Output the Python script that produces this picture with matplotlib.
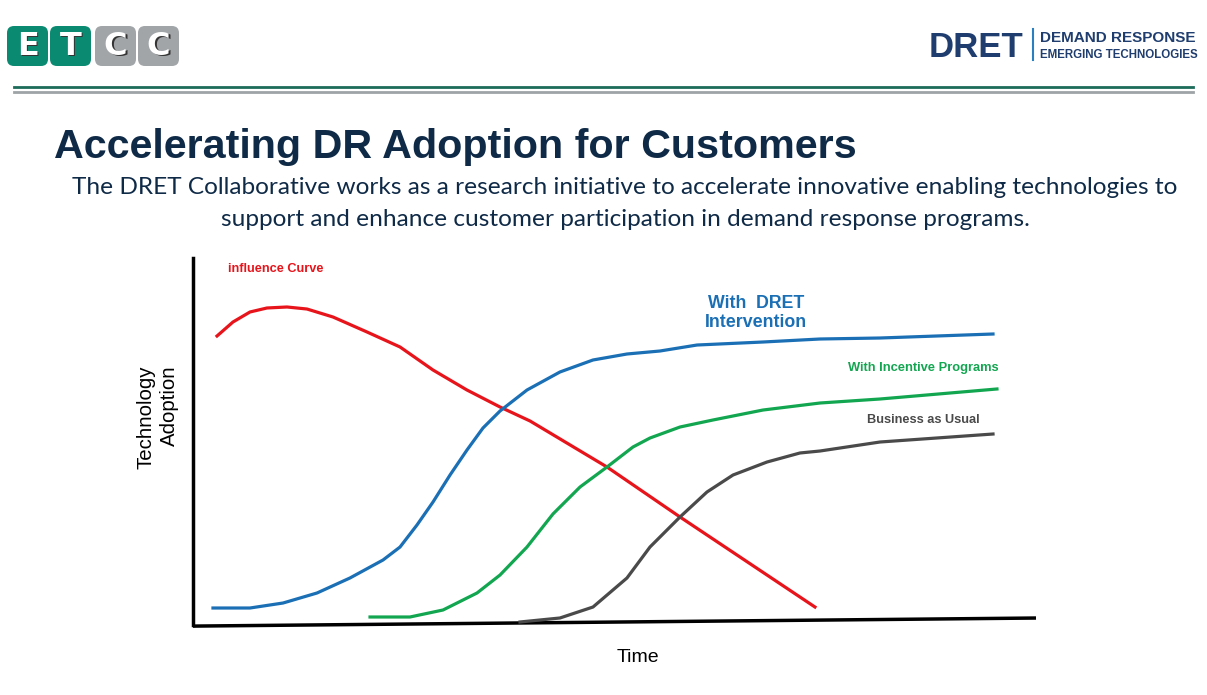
import matplotlib.pyplot as plt
from matplotlib.patches import FancyBboxPatch

# curves (time 0-100, adoption 0-100)
influence_t = [2.85, 4.74, 6.76, 8.78, 11.15, 13.52, 16.61, 20.64, 24.56, 28.47, 32.50, 36.42,
               39.98, 49.11, 57.77, 73.78]
influence_y = [78.75, 82.56, 85.29, 86.38, 86.65, 86.10, 83.92, 79.84, 75.75, 69.48, 64.03, 59.40,
               55.59, 43.05, 29.43, 4.90]

dret_t = [2.37, 6.76, 10.68, 14.71, 18.62, 22.54, 24.56, 26.57, 28.47, 30.49, 32.50, 34.40,
          36.42, 39.62, 43.53, 47.45, 51.48, 55.40, 59.79, 67.62, 74.38, 81.49, 94.90]
dret_y = [4.63, 4.63, 5.99, 8.72, 12.81, 17.71, 21.25, 27.25, 33.51, 40.87, 47.68, 53.68,
          58.31, 64.03, 68.94, 72.21, 73.84, 74.66, 76.29, 77.11, 77.93, 78.20, 79.29]

incentive_t = [21.00, 25.74, 29.66, 33.69, 36.42, 39.62, 42.70, 45.91, 49.11, 52.19, 54.21,
               57.77, 61.68, 67.62, 74.38, 81.49, 95.37]
incentive_y = [2.18, 2.18, 4.09, 8.72, 13.62, 21.25, 30.25, 37.60, 43.05, 48.50, 50.95,
               53.95, 55.86, 58.58, 60.49, 61.58, 64.31]

bau_t = [38.79, 43.53, 47.45, 51.48, 54.21, 57.77, 60.97, 64.06, 68.09, 72.00, 74.38, 81.49, 94.90]
bau_y = [0.82, 1.91, 4.90, 12.81, 21.25, 29.43, 36.24, 40.87, 44.41, 46.87, 47.41, 49.86, 52.04]

NAVY = "#0f2a47"
LOGO_NAVY = "#1f3d6e"
RED = "#e8141b"
BLUE = "#1a6fb5"
GREEN = "#12a650"
GRAY = "#4a4a4a"

fig = plt.figure(figsize=(12.07, 6.95), dpi=100)

# slide layer in pixel coordinates
deco = fig.add_axes([0, 0, 1, 1])
deco.set_xlim(0, 1207)
deco.set_ylim(695, 0)
deco.axis("off")

# ETCC logo
logo_x = [7, 50, 95, 138]
logo_colors = ["#0b8a72", "#0b8a72", "#a2a5a8", "#a2a5a8"]
for x0, letter, color in zip(logo_x, "ETCC", logo_colors):
    deco.add_patch(FancyBboxPatch((x0, 26), 41, 40, boxstyle="round,pad=0,rounding_size=7",
                                  fc=color, ec="none"))
    deco.text(x0 + 22, 48, letter, ha="center", va="center", fontsize=23, fontweight="bold",
              color="#333333", family="DejaVu Sans")
    deco.text(x0 + 20.5, 46.5, letter, ha="center", va="center", fontsize=23, fontweight="bold",
              color="white", family="DejaVu Sans")

# DRET logo
deco.text(929, 57, "DRET", ha="left", va="baseline", fontsize=25, fontweight="bold",
          color=LOGO_NAVY, family="Liberation Sans")
deco.plot([1033, 1033], [29, 60], color="#2a7fc0", lw=1.5)
deco.text(1040, 42, "DEMAND RESPONSE", ha="left", va="baseline", fontsize=11, fontweight="bold",
          color=LOGO_NAVY, family="Liberation Sans")
deco.text(1040, 58, "EMERGING TECHNOLOGIES", ha="left", va="baseline", fontsize=8.3, fontweight="bold",
          color=LOGO_NAVY, family="Liberation Sans")

# header rules
deco.plot([14, 1193], [87, 87], color="#1d6b59", lw=2)
deco.plot([14, 1193], [92, 92], color="#9ea3a7", lw=2)

# title and subtitle
deco.text(54, 158, "Accelerating DR Adoption for Customers", ha="left", va="baseline", fontsize=29.7,
          fontweight="bold", color=NAVY, family="Liberation Sans")
deco.text(625, 194, "The DRET Collaborative works as a research initiative to accelerate innovative "
          "enabling technologies to", ha="center", va="baseline", fontsize=17.6, color=NAVY, family="Lato")
deco.text(625, 226, "support and enhance customer participation in demand response programs.",
          ha="center", va="baseline", fontsize=17.6, color=NAVY, family="Lato")

# chart
ax = fig.add_axes([193 / 1207, 1 - 625 / 695, (1036 - 193) / 1207, (625 - 258) / 695])
ax.set_xlim(0, 100)
ax.set_ylim(0, 100)
ax.set_facecolor("none")
for side in ["top", "right", "bottom"]:
    ax.spines[side].set_visible(False)
ax.spines["left"].set_linewidth(2.5)
ax.spines["left"].set_color("black")
ax.set_xticks([])
ax.set_yticks([])
ax.plot([0, 1], [-0.003, 0.019], transform=ax.transAxes, color="black", lw=2.5,
        solid_capstyle="butt", clip_on=False)

ax.plot(influence_t, influence_y, color=RED, lw=2.3, solid_joinstyle="round")
ax.plot(dret_t, dret_y, color=BLUE, lw=2.3, solid_joinstyle="round")
ax.plot(incentive_t, incentive_y, color=GREEN, lw=2.3, solid_joinstyle="round")
ax.plot(bau_t, bau_y, color=GRAY, lw=2.3, solid_joinstyle="round")

deco.text(228, 269, "influence Curve", ha="left", va="center", fontsize=9.2, fontweight="bold",
          color=RED, family="Liberation Sans")
deco.text(756, 313, "With  DRET\nIntervention", ha="center", va="center", fontsize=12.8,
          fontweight="bold", color=BLUE, family="Liberation Sans", linespacing=1.15)
deco.text(999, 368, "With Incentive Programs", ha="right", va="center", fontsize=9.3,
          fontweight="bold", color=GREEN, family="Liberation Sans")
deco.text(980, 420, "Business as Usual", ha="right", va="center", fontsize=9.2,
          fontweight="bold", color=GRAY, family="Liberation Sans")

deco.text(158, 417, "Technology\nAdoption", ha="center", va="center", rotation=90, fontsize=14.7,
          color="black", family="Liberation Sans", linespacing=1.3, multialignment="right")
deco.text(638, 658, "Time", ha="center", va="center", fontsize=14, color="black",
          family="Liberation Sans")

fig.savefig("out.png", dpi=100)
